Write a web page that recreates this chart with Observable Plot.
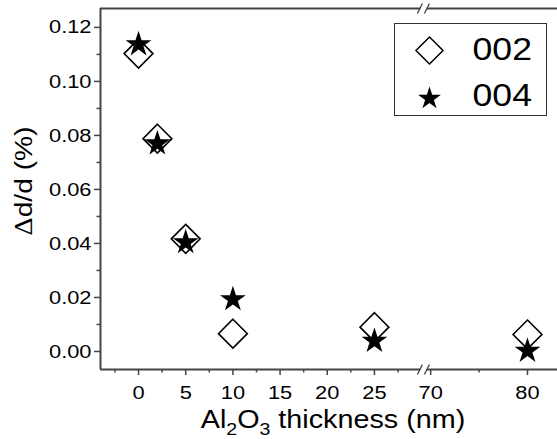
<!DOCTYPE html>
<html><head><meta charset="utf-8">
<script src="https://cdn.jsdelivr.net/npm/d3@7"></script>
<script src="https://cdn.jsdelivr.net/npm/@observablehq/plot@0.6"></script>
<style>
body{margin:0;background:#fff}
#chart svg{display:block}
</style>
</head><body><div id="chart"></div>
<script>
// ---- data ----
const thickness = [0, 2, 5, 10, 25, 80];              // Al2O3 thickness (nm)
const d002 = [0.1103, 0.0788, 0.0417, 0.0066, 0.0090, 0.0063];
const d004 = [0.1137, 0.0770, 0.0404, 0.0193, 0.0039, 0.0002];
const seriesNames = ["002", "004"];
const majorTicksX = [0, 5, 10, 15, 20, 25, 70, 80];
const minorTicksX = [-2.5, 2.5, 7.5, 12.5, 17.5, 22.5, 27.5, 75];
const majorTicksY = [0, 0.02, 0.04, 0.06, 0.08, 0.10, 0.12];
const minorTicksY = [0.01, 0.03, 0.05, 0.07, 0.09, 0.11];
const xTitle = "Al2O3 thickness (nm)";
const yTitle = "Δd/d (%)";

// ---- broken x axis: values >= 70 are shifted left ----
const brkStart = 70, brkU = 30.96, brkK = 1.026, breakAt = 30.4;
const brk = x => x < 50 ? x : brkU + (x - brkStart) * brkK;
const unbrk = u => u <= breakAt ? u : brkStart + (u - brkU) / brkK;

const xDomain = [-4.03, 44.4];
const yDomain = [-0.00667, 0.127];

const rows002 = thickness.map((t, i) => ({t, v: d002[i]}));
const rows004 = thickness.map((t, i) => ({t, v: d004[i]}));

const axisColor = "#444";
const tickFont = 19;
const stretchX = 1.15;   // the reference font is wider than Liberation Sans
const slashSymbol = {draw(ctx) { ctx.moveTo(-8, 5); ctx.lineTo(-3, -5); ctx.moveTo(-1, 5); ctx.lineTo(4, -5); }};
const gapSymbol = {draw(ctx) { ctx.moveTo(-5, -2.5); ctx.lineTo(1.5, -2.5); ctx.lineTo(1.5, 2.5); ctx.lineTo(-5, 2.5); ctx.closePath(); }};

const chart = Plot.plot({
  width: 557, height: 439,
  marginLeft: 100, marginRight: 0, marginTop: 8, marginBottom: 70,
  style: {fontFamily: "'Liberation Sans', Arial, sans-serif", background: "white", color: "black"},
  x: {type: "linear", domain: xDomain, label: null},
  y: {type: "linear", domain: yDomain, label: null},
  marks: [
    // axis lines
    Plot.ruleX([xDomain[0]], {stroke: axisColor, strokeWidth: 2}),
    Plot.ruleY([yDomain[0]], {stroke: axisColor, strokeWidth: 2}),
    Plot.ruleY([yDomain[1]], {stroke: axisColor, strokeWidth: 2}),
    // ticks
    Plot.axisY(majorTicksY, {tickSize: 6, tickPadding: 3, tickFormat: d3.format(".2f"), fontSize: tickFont, stroke: axisColor, strokeWidth: 1.5, label: null}),
    Plot.axisY(minorTicksY, {tickSize: 3.5, tickFormat: () => "", stroke: axisColor, strokeWidth: 1.5, label: null}),
    Plot.axisX(majorTicksX.map(brk), {tickSize: 6, tickPadding: 10, tickFormat: u => String(Math.round(unbrk(u))), fontSize: tickFont, stroke: axisColor, strokeWidth: 1.5, label: null}),
    Plot.axisX(minorTicksX.map(brk), {tickSize: 3.5, tickFormat: () => "", stroke: axisColor, strokeWidth: 1.5, label: null}),
    // axis break marks
    Plot.dot([yDomain[0], yDomain[1]], {x: () => breakAt, y: d => d, symbol: gapSymbol, fill: "white", stroke: "none"}),
    Plot.dot([yDomain[0], yDomain[1]], {x: () => breakAt, y: d => d, symbol: slashSymbol, fill: "none", stroke: axisColor, strokeWidth: 1.3}),
    // data
    Plot.dot(rows002, {x: d => brk(d.t), y: "v", symbol: "diamond2", r: 13, stroke: "black", strokeWidth: 1.6, fill: "white"}),
    Plot.dot(rows004, {x: d => brk(d.t), y: "v", symbol: "star", r: 8.1, fill: "black", stroke: "none"}),
    // legend
    Plot.frame({insetLeft: 294, insetRight: 11, insetTop: 15, insetBottom: 254, stroke: "#333", strokeWidth: 1, fill: "white"}),
    Plot.dot([seriesNames[0]], {frameAnchor: "top-left", dx: 329, dy: 42, symbol: "diamond2", r: 12.2, stroke: "black", strokeWidth: 1.5, fill: "white"}),
    Plot.dot([seriesNames[1]], {frameAnchor: "top-left", dx: 329, dy: 90, symbol: "star", r: 7.2, fill: "black", stroke: "none"}),
    Plot.text([seriesNames[0]], {frameAnchor: "top-left", text: d => d, textAnchor: "start", lineAnchor: "middle", dx: 372, dy: 42, fontSize: 31, fill: "black"}),
    Plot.text([seriesNames[1]], {frameAnchor: "top-left", text: d => d, textAnchor: "start", lineAnchor: "middle", dx: 372, dy: 88, fontSize: 31, fill: "black"}),
    // axis titles
    Plot.text([xTitle], {frameAnchor: "bottom", text: d => d, textAnchor: "middle", lineAnchor: "middle", dx: 4, dy: 50, fontSize: 25, fill: "black"}),
    Plot.text([yTitle], {frameAnchor: "left", text: d => d, textAnchor: "middle", lineAnchor: "middle", rotate: -90, dx: -76, dy: -8, fontSize: 24.5, fill: "black"})
  ]
});
document.getElementById("chart").appendChild(chart);

function stretch(el, sx) {
  if (el.hasAttribute("x")) el.setAttribute("x", (+el.getAttribute("x")) / sx);
  const tr = el.getAttribute("transform") || "";
  el.setAttribute("transform", tr + ` scale(${sx},1)`);
}

// tick label size, subscripts in the x title, symbol-style Delta in the y title
chart.querySelectorAll("text").forEach(el => {
  const t = el.textContent;
  if (t === "") return;
  if (/^(\d+|0\.\d\d)$/.test(t) && !seriesNames.includes(t)) {
    el.style.fontSize = tickFont + "px";
  } else if (t === xTitle) {
    const s = d3.select(el).text(null);
    s.append("tspan").text("Al");
    s.append("tspan").attr("dy", 8).attr("font-size", 17).text("2");
    s.append("tspan").attr("dy", -8).text("O");
    s.append("tspan").attr("dy", 8).attr("font-size", 17).text("3");
    s.append("tspan").attr("dy", -8).text(" thickness (nm)");
  } else if (t === yTitle) {
    const s = d3.select(el).text(null);
    s.append("tspan").attr("font-family", "'Liberation Serif', serif").text(yTitle.slice(0, 1));
    s.append("tspan").text(yTitle.slice(1));
  }
  stretch(el, stretchX);
});
</script>
</body></html>
